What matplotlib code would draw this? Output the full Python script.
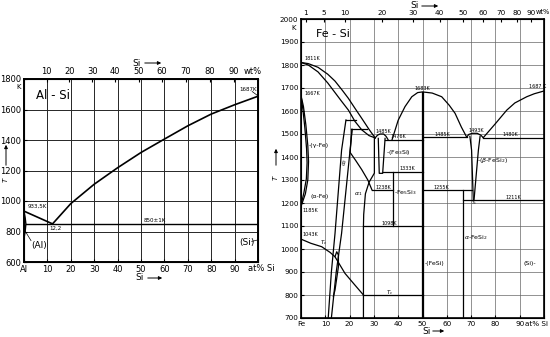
import matplotlib.pyplot as plt
from matplotlib import font_manager

names = {f.name for f in font_manager.fontManager.ttflist}
narrow = 'Liberation Sans Narrow' if 'Liberation Sans Narrow' in names else 'DejaVu Sans'
plt.rcParams['font.family'] = [narrow, 'DejaVu Sans']

# ---------------- Al-Si data (at% Si, K) ----------------
alsi_liq_at = [0, 12.2, 20, 30, 40, 50, 60, 70, 80, 90, 100]
alsi_liq_T = [933.5, 850, 983, 1110, 1218, 1318, 1406, 1493, 1570, 1631, 1687]
alsi_sol_at = [0, 0.5, 0.8, 0.5, 0.1, 0]
alsi_sol_T = [933.5, 890, 850, 800, 765, 740]
alsi_eut_at = [0.8, 100]
alsi_eut_T = [850, 850]
alsi_wt_ticks = [10, 20, 30, 40, 50, 60, 70, 80, 90]
alsi_at_ticks = [0, 10, 20, 30, 40, 50, 60, 70, 80, 90, 100]
alsi_at_labels = ['Al', '10', '20', '30', '40', '50', '60', '70', '80', '90', '']
alsi_T_ticks = [600, 800, 1000, 1200, 1400, 1600, 1800]

# ---------------- Fe-Si data (at% Si, K) ----------------
fe_liq_at = [0, 3, 7, 11, 14, 17, 19.5, 22, 25, 28, 30.5]
fe_liq_T = [1811, 1806, 1790, 1760, 1730, 1690, 1655, 1615, 1568, 1520, 1483]
fe_sol_at = [0, 3, 7, 11, 14, 16.5, 19.5, 22.2, 25, 28, 30.5]
fe_sol_T = [1811, 1800, 1770, 1722, 1680, 1645, 1604, 1555, 1518, 1493, 1483]
gam_out_at = [0, 1, 2, 2.8, 3.1, 2.8, 1.8, 0]
gam_out_T = [1667, 1620, 1540, 1450, 1380, 1300, 1240, 1185]
gam_in_at = [0, 0.8, 1.6, 2.3, 2.5, 2.2, 1.2, 0]
gam_in_T = [1667, 1605, 1525, 1435, 1375, 1305, 1245, 1190]
band_l_at = [11.2, 12.5, 14, 16.7, 18.5]
band_l_T = [700, 900, 1068, 1430, 1561]
band_r_at = [12.5, 14.5, 16.7, 20.2, 21]
band_r_T = [700, 900, 1068, 1430, 1520]
a2a1_at = [21, 20.2, 22.5, 25, 27.5, 29.2]
a2a1_T = [1520, 1420, 1385, 1345, 1300, 1257]
a1b_at = [30.2, 30.2, 28, 26.5, 25.8, 25.7, 25.7]
a1b_T = [1483, 1330, 1290, 1240, 1150, 1100, 700]
fe3si_at = [31.8, 32.2, 33.6, 34.6]
fe3si_T = [1481, 1329, 1329, 1481]
bump1_at = [30.5, 31.5, 32.5, 34, 35, 35.8]
bump1_T = [1483, 1495, 1500, 1500, 1490, 1476]
fesi_dome_at = [37.5, 40, 42.8, 45.6, 48, 50, 54, 57.9, 61, 63.4, 66, 68.2]
fesi_dome_T = [1476, 1560, 1619, 1662, 1680, 1683, 1678, 1662, 1625, 1590, 1530, 1486]
bump2_at = [68.2, 69, 70.5, 72.5, 74, 75]
bump2_T = [1486, 1498, 1503, 1503, 1495, 1484]
si_liq_at = [75, 80, 84.7, 88, 92.9, 96, 100]
si_liq_T = [1484, 1545, 1604, 1635, 1662, 1675, 1687]
beta_l_at = [69.5, 70.2, 70.9]
beta_l_T = [1490, 1430, 1213]
beta_r_at = [73.7, 73, 71.2]
beta_r_T = [1490, 1430, 1213]
curie_at = [0, 4, 8.5, 12, 14, 18.1, 22.2, 25.7]
curie_T = [1043, 1025, 1010, 985, 966, 894, 843, 800]
hook_at = [14, 14.7, 15.4, 15.4, 14, 13.3]
hook_T = [967, 988, 974, 923, 822, 793]
# horizontal invariant lines: (T, at from, at to)
fe_hlines = [(1561, 18.5, 22.5), (1520, 20.5, 27), (1476, 34.6, 50), (1336, 33.6, 50),
             (1257, 29.2, 38), (1098, 25.7, 50), (800, 25.7, 50), (1485, 50.4, 68.2),
             (1484, 75, 100), (1257, 50.4, 70.5), (1213, 66.7, 100)]
# vertical lines: (at, T from, T to)
fe_vlines = [(38, 1336, 1098), (49.8, 1683, 700), (50.4, 1683, 700), (66.7, 1257, 700)]
fe_wt_ticks = [1, 5, 10, 20, 30, 40, 50, 60, 70, 80, 90]
fe_at_ticks = [0, 10, 20, 30, 40, 50, 60, 70, 80, 90, 100]
fe_at_labels = ['Fe', '10', '20', '30', '40', '50', '60', '70', '80', '90', '']
fe_T_ticks = list(range(700, 2001, 100))


def wt_to_at(w, m_other):
    a = w / 28.086
    return 100 * a / (a + (100 - w) / m_other)


fig = plt.figure(figsize=(5.5, 3.37), dpi=100)
W, H = 550, 337

# ---------------- Al-Si ----------------
ax1 = fig.add_axes([24 / W, (H - 262) / H, 234 / W, 183 / H])
ax1.set_xlim(0, 100)
ax1.set_ylim(600, 1800)
ax1.set_xticks(alsi_at_ticks)
ax1.set_xticklabels(alsi_at_labels)
ax1.set_yticks(alsi_T_ticks)
ax1.grid(True, color='0.15', lw=0.7)
ax1.tick_params(direction='in', length=2, labelsize=6, pad=2)
for s in ax1.spines.values():
    s.set_linewidth(1.4)
ax1.plot(alsi_liq_at, alsi_liq_T, color='k', lw=1.2)
ax1.plot(alsi_sol_at, alsi_sol_T, color='k', lw=1.0)
ax1.plot(alsi_eut_at, alsi_eut_T, color='k', lw=1.0)
ax1.text(95.8, 585, 'at% Si', fontsize=6, ha='left', va='top', clip_on=False)
t1 = ax1.twiny()
t1.set_xlim(0, 100)
t1.set_xticks([wt_to_at(w, 26.982) for w in alsi_wt_ticks])
t1.set_xticklabels([str(w) for w in alsi_wt_ticks])
t1.tick_params(direction='in', length=2, labelsize=6, pad=2)
ax1.text(94, 1822, 'wt%', fontsize=6, ha='left', va='bottom')
ax1.text(5, 1695, 'Al - Si', fontsize=8.5, va='center')
ax1.text(-1.5, 1770, 'K', fontsize=5, ha='right', va='top')
ax1.text(1.5, 958, '933,5K', fontsize=4)
ax1.text(11, 812, '12,2', fontsize=4)
ax1.text(51, 860, '850±1K', fontsize=4)
ax1.text(92, 1722, '1687K', fontsize=4)
ax1.plot([97.5, 99.5], [1718, 1695], color='k', lw=0.5)
ax1.text(3, 710, '(Al)', fontsize=6.5, va='center')
ax1.plot([3, 0.6], [740, 800], color='k', lw=0.5)
ax1.text(92, 730, '(Si)', fontsize=6.5, va='center')
ax1.plot([97.3, 100], [735, 745], color='k', lw=0.5)

# ---------------- Fe-Si ----------------
ax2 = fig.add_axes([301 / W, (H - 318) / H, 243 / W, 299 / H])
ax2.set_xlim(0, 100)
ax2.set_ylim(700, 2000)
ax2.set_xticks(fe_at_ticks)
ax2.set_xticklabels(fe_at_labels)
ax2.set_yticks(fe_T_ticks)
ax2.grid(True, color='0.4', lw=0.5)
ax2.tick_params(direction='in', length=2, labelsize=5.2, pad=2)
for s in ax2.spines.values():
    s.set_linewidth(1.2)
t2 = ax2.twiny()
t2.set_xlim(0, 100)
t2.set_xticks([wt_to_at(w, 55.845) for w in fe_wt_ticks])
t2.set_xticklabels([str(w) for w in fe_wt_ticks])
t2.tick_params(direction='in', length=2, labelsize=5.2, pad=2)
ax2.text(96.6, 2016, 'wt%', fontsize=4.8, ha='left', va='bottom', clip_on=False)
ax2.text(101.5, 688, 'at% Si', fontsize=5.2, ha='right', va='top', clip_on=False)

k = dict(color='k', lw=0.9)
for xs, ys in [(fe_liq_at, fe_liq_T), (fe_sol_at, fe_sol_T), (gam_out_at, gam_out_T),
               (gam_in_at, gam_in_T), (band_l_at, band_l_T), (band_r_at, band_r_T),
               (a2a1_at, a2a1_T), (a1b_at, a1b_T), (fe3si_at, fe3si_T),
               (bump1_at, bump1_T), (fesi_dome_at, fesi_dome_T), (bump2_at, bump2_T),
               (si_liq_at, si_liq_T), (beta_l_at, beta_l_T), (beta_r_at, beta_r_T),
               (curie_at, curie_T), (hook_at, hook_T)]:
    ax2.plot(xs, ys, **k)
for T, a, b in fe_hlines:
    ax2.plot([a, b], [T, T], **k)
for a, T0, T1 in fe_vlines:
    ax2.plot([a, a], [T0, T1], **k)

fs = 3.5
ax2.text(6, 1935, 'Fe - Si', fontsize=8, va='center')
ax2.text(-2, 1975, 'K', fontsize=5, ha='right', va='top')
ax2.text(1.5, 1822, '1811K', fontsize=fs)
ax2.text(1.5, 1668, '1667K', fontsize=fs)
ax2.text(3.2, 1452, '-(γ-Fe)', fontsize=4.5, va='center')
ax2.text(4, 1228, '(α-Fe)', fontsize=4.5, va='center')
ax2.text(0.8, 1160, '1185K', fontsize=fs)
ax2.text(0.8, 1055, '1043K', fontsize=fs)
ax2.text(8, 1020, r'$T_c$', fontsize=4)
ax2.text(16.3, 1370, r'$\alpha_2$', fontsize=4, rotation=75)
ax2.text(22, 1235, r'$\alpha_1$', fontsize=4.5)
ax2.text(30.5, 1506, '1485K', fontsize=fs)
ax2.text(37, 1484, '1476K', fontsize=fs)
ax2.text(35, 1420, r'-(Fe$_3$Si)', fontsize=4.5, va='center')
ax2.text(40.5, 1342, '1333K', fontsize=fs)
ax2.text(30.5, 1262, '1238K', fontsize=fs)
ax2.text(38.3, 1245, r'-Fe$_5$Si$_3$', fontsize=4.5, va='center')
ax2.text(33, 1104, '1098K', fontsize=fs)
ax2.text(35, 806, r'$T_c$', fontsize=4)
ax2.text(50.8, 935, r'-(FeSi)', fontsize=4.5, va='center')
ax2.text(46.5, 1692, '1683K', fontsize=fs)
ax2.text(55, 1492, '1485K', fontsize=fs)
ax2.text(69, 1510, '1493K', fontsize=fs)
ax2.text(83, 1492, '1480K', fontsize=fs)
ax2.text(94, 1700, '1687 K', fontsize=fs)
ax2.text(72.5, 1385, r'-($\beta$-FeSi$_2$)', fontsize=4.5, va='center')
ax2.text(54.5, 1263, '1255K', fontsize=fs)
ax2.text(70, 1195, r'$T_s$', fontsize=3)
ax2.text(84, 1218, '1211K', fontsize=fs)
ax2.text(66.9, 1048, r'$\alpha$-FeSi$_2$', fontsize=4.5, va='center')
ax2.text(91.5, 935, '(Si)-', fontsize=4.5, va='center')

# axis arrows and labels
arr = dict(arrowstyle='-|>', lw=0.7, color='k', mutation_scale=5)


def si_arrow(x, y, x0, x1):
    fig.text(x / W, (H - y) / H, 'Si', fontsize=6.5, va='center')
    fig.add_artist(plt.Annotation('', xy=(x1, H - y), xytext=(x0, H - y),
                                  xycoords='figure pixels', arrowprops=arr))


si_arrow(135, 278, 145, 165)
si_arrow(132, 63, 142, 164)
si_arrow(410, 6, 419, 441)
si_arrow(422, 331, 430, 447)


def t_arrow(x, y, y0, y1):
    fig.text(x / W, (H - y) / H, 'T', fontsize=5, style='italic', rotation=90,
             ha='center', va='center')
    fig.add_artist(plt.Annotation('', xy=(x, H - y1), xytext=(x, H - y0),
                                  xycoords='figure pixels', arrowprops=arr))


t_arrow(6, 180, 168, 142)
t_arrow(276, 178, 168, 146)

fig.savefig('out.png', dpi=100)
